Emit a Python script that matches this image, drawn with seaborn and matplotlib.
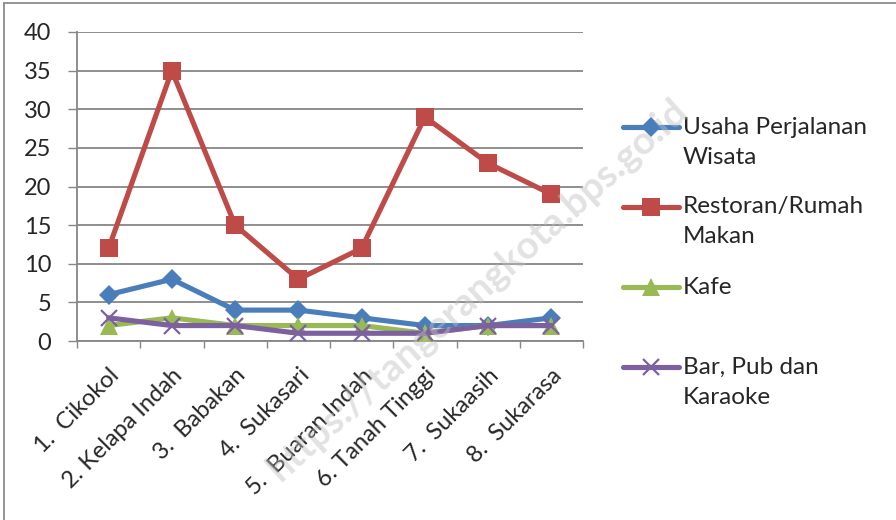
import numpy as np
import pandas as pd
import matplotlib
matplotlib.use("Agg")
import matplotlib.pyplot as plt
from matplotlib.lines import Line2D
import seaborn as sns

categories = ["1.  Cikokol", "2. Kelapa Indah", "3.  Babakan", "4.  Sukasari",
              "5.  Buaran Indah", "6. Tanah Tinggi", "7.  Sukaasih", "8.  Sukarasa"]
usaha_perjalanan = [6, 8, 4, 4, 3, 2, 2, 3]
restoran = [12, 35, 15, 8, 12, 29, 23, 19]
kafe = [2, 3, 2, 2, 2, 1, 2, 2]
bar_pub = [3, 2, 2, 1, 1, 1, 2, 2]
series_names = ["Usaha Perjalanan Wisata", "Restoran/Rumah Makan", "Kafe", "Bar, Pub dan Karaoke"]
legend_labels = [["Usaha Perjalanan", "Wisata"], ["Restoran/Rumah", "Makan"], ["Kafe"],
                 ["Bar, Pub dan", "Karaoke"]]
y_ticks = [0, 5, 10, 15, 20, 25, 30, 35, 40]

colors = ["#4A7EBB", "#BE4B48", "#98B954", "#7D60A0"]
markers = ["D", "s", "^", "x"]
msizes = [10, 13, 12.5, 11]

sns.set_theme(style="white")
plt.rcParams["font.family"] = ["Lato", "DejaVu Sans"]

values = [usaha_perjalanan, restoran, kafe, bar_pub]
FS = 17

fig = plt.figure(figsize=(8.96, 5.2), dpi=100)
ax = fig.add_axes([77/896, 1-341/520, (583-77)/896, (341-32)/520])

for i, (name, vals) in enumerate(zip(series_names, values)):
    d = pd.DataFrame({"pos": np.arange(len(categories)), "val": vals})
    sns.lineplot(data=d, x="pos", y="val", ax=ax, color=colors[i], lw=3.7,
                 marker=markers[i], markersize=msizes[i],
                 markeredgewidth=1.6 if markers[i] == "x" else 0,
                 markeredgecolor=colors[i], markerfacecolor=colors[i],
                 zorder=3 + i, legend=False)

ax.set_xlim(-0.5, len(categories) - 0.5)
ax.set_ylim(0, 40)
ax.set_yticks(y_ticks)
ax.set_yticklabels([str(v) for v in y_ticks], fontsize=FS)
ax.yaxis.grid(True, color="#868686", lw=1.3)
ax.set_axisbelow(True)
ax.tick_params(axis="y", left=True, length=6.5, width=1.0, color="#868686", pad=12)

ax.set_xticks(np.arange(-0.5, len(categories), 1.0))
ax.set_xticklabels([])
ax.tick_params(axis="x", bottom=True, length=5, width=1.0, color="#868686")
ax.set_xticks(np.arange(len(categories)), minor=True)
ax.set_xticklabels(categories, minor=True, rotation=45, ha="right",
                   rotation_mode="anchor", fontsize=FS)
ax.tick_params(axis="x", which="minor", length=0, pad=17)
ax.set_xlabel("")
ax.set_ylabel("")
for s in ["top", "right"]:
    ax.spines[s].set_visible(False)
for s in ["left", "bottom"]:
    ax.spines[s].set_color("#868686")
    ax.spines[s].set_linewidth(1.3)

# legend (manual, Excel style)
hx0, hx1 = 623/896, 679/896
tx = 683/896
ys = [127, 207, 287, 367]
for i, lines in enumerate(legend_labels):
    yy = 1 - ys[i]/520
    fig.add_artist(Line2D([hx0, hx1], [yy, yy], transform=fig.transFigure,
                          color=colors[i], lw=3.7, solid_capstyle="round"))
    fig.add_artist(Line2D([(hx0+hx1)/2], [yy], transform=fig.transFigure,
                          color=colors[i], marker=markers[i], markersize=msizes[i],
                          markeredgewidth=1.6 if markers[i] == "x" else 0,
                          markeredgecolor=colors[i], markerfacecolor=colors[i]))
    for j, line in enumerate(lines):
        fig.text(tx, 1 - (ys[i] + 30*j)/520, line, fontsize=17.5, va="center", ha="left")

# chart border
fig.add_artist(Line2D([4/896, 4/896], [0, 1-3/520], transform=fig.transFigure, color="#8c8c8c", lw=1.3))
fig.add_artist(Line2D([4/896, 1], [1-3/520, 1-3/520], transform=fig.transFigure, color="#8c8c8c", lw=1.3))

# watermark
fig.text(478/896, 1-290/520, "https://tangerangkota.bps.go.id", rotation=42,
         ha="center", va="center", fontsize=28, fontweight="bold",
         color="#bfbfbf", alpha=0.45, zorder=10)

fig.savefig("out.png", dpi=100)
